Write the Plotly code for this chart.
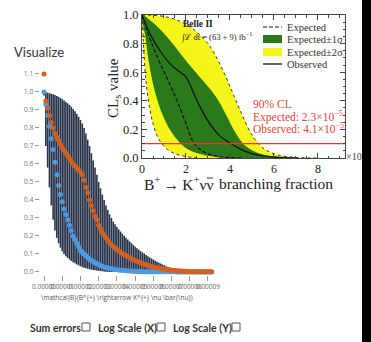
import plotly.graph_objects as go

W, H = 371, 342

# ---------------- left "Visualize" plot data (x in units of 1e-5) ----------------
bf_x = [0.0, 0.1, 0.2, 0.3, 0.4, 0.5, 0.6, 0.7, 0.8, 0.9,
        1.0, 1.1, 1.2, 1.3, 1.4, 1.5, 1.6, 1.7, 1.8, 1.9,
        2.0, 2.1, 2.2, 2.3, 2.4, 2.5, 2.6, 2.7, 2.8, 2.9,
        3.0, 3.1, 3.2, 3.3, 3.4, 3.5, 3.6, 3.7, 3.8, 3.9,
        4.0, 4.1, 4.2, 4.3, 4.4, 4.5, 4.6, 4.7, 4.8, 4.9,
        5.0, 5.1, 5.2, 5.3, 5.4, 5.5, 5.6, 5.7, 5.8, 5.9,
        6.0, 6.1, 6.2, 6.3, 6.4, 6.5, 6.6, 6.7, 6.8, 6.9,
        7.0, 7.1, 7.2, 7.3, 7.4, 7.5, 7.6, 7.7, 7.8, 7.9,
        8.0, 8.1, 8.2, 8.3, 8.4, 8.5, 8.6, 8.7, 8.8, 8.9,
        9.0, 9.1, 9.2]

cls_expected = [1.0, 0.93, 0.87, 0.81, 0.74, 0.68, 0.61, 0.54, 0.48, 0.43,
                0.39, 0.35, 0.32, 0.29, 0.26, 0.23, 0.20, 0.18, 0.16, 0.14,
                0.12, 0.11, 0.10, 0.09, 0.08, 0.07, 0.065, 0.058, 0.052, 0.046,
                0.041, 0.036, 0.032, 0.028, 0.025, 0.022, 0.020, 0.018, 0.016, 0.014,
                0.012, 0.011, 0.010, 0.009, 0.008, 0.007, 0.006, 0.005, 0.005, 0.004,
                0.004, 0.003, 0.003, 0.003, 0.002, 0.002, 0.002, 0.002, 0.001, 0.001,
                0.001, 0.001, 0.001, 0.001, 0.001, 0.001, 0.001, 0.001, 0.001, 0.001,
                0.001, 0.001, 0.001, 0.0, 0.0, 0.0, 0.0, 0.0, 0.0, 0.0,
                0.0, 0.0, 0.0, 0.0, 0.0, 0.0, 0.0, 0.0, 0.0, 0.0,
                0.0, 0.0, 0.0]

cls_observed = [1.10, 0.95, 0.91, 0.87, 0.83, 0.80, 0.77, 0.75, 0.73, 0.71,
                0.69, 0.675, 0.66, 0.645, 0.63, 0.615, 0.60, 0.59, 0.575, 0.565,
                0.555, 0.54, 0.51, 0.47, 0.44, 0.40, 0.37, 0.34, 0.31, 0.29,
                0.26, 0.24, 0.22, 0.205, 0.19, 0.175, 0.163, 0.152, 0.142, 0.133,
                0.125, 0.117, 0.11, 0.103, 0.097, 0.091, 0.085, 0.08, 0.074, 0.069,
                0.064, 0.059, 0.055, 0.051, 0.047, 0.043, 0.04, 0.036, 0.033, 0.03,
                0.028, 0.025, 0.023, 0.021, 0.019, 0.017, 0.015, 0.014, 0.012, 0.011,
                0.01, 0.009, 0.008, 0.007, 0.006, 0.005, 0.005, 0.004, 0.004, 0.003,
                0.003, 0.002, 0.002, 0.002, 0.002, 0.002, 0.001, 0.001, 0.001, 0.001,
                0.001, 0.001, 0.001]

band_upper = [1.0, 0.998, 0.996, 0.993, 0.99, 0.987, 0.983, 0.978, 0.973, 0.967,
              0.96, 0.953, 0.945, 0.937, 0.928, 0.918, 0.906, 0.893, 0.878, 0.862,
              0.845, 0.825, 0.80, 0.77, 0.735, 0.70, 0.66, 0.62, 0.58, 0.54,
              0.50, 0.465, 0.43, 0.40, 0.37, 0.345, 0.32, 0.30, 0.28, 0.265,
              0.25, 0.237, 0.225, 0.213, 0.202, 0.19, 0.18, 0.17, 0.16, 0.15,
              0.14, 0.132, 0.124, 0.116, 0.109, 0.102, 0.095, 0.088, 0.081, 0.075,
              0.069, 0.063, 0.057, 0.052, 0.047, 0.042, 0.037, 0.032, 0.028, 0.024,
              0.02, 0.016, 0.013, 0.01, 0.008, 0.006, 0.004, 0.003, 0.002, 0.001,
              0.001, 0.0, 0.0, 0.0, 0.0, 0.0, 0.0, 0.0, 0.0, 0.0,
              0.0, 0.0, 0.0]

band_lower = [0.98, 0.70, 0.58, 0.47, 0.37, 0.29, 0.23, 0.19, 0.16, 0.135,
              0.115, 0.10, 0.088, 0.078, 0.069, 0.061, 0.054, 0.048, 0.042, 0.037,
              0.032, 0.028, 0.024, 0.021, 0.018, 0.015, 0.013, 0.011, 0.009, 0.008,
              0.006, 0.005, 0.004, 0.003, 0.002, 0.001, 0.0, 0.0, 0.0, 0.0,
              0.0, 0.0, 0.0, 0.0, 0.0, 0.0, 0.0, 0.0, 0.0, 0.0,
              0.0, 0.0, 0.0, 0.0, 0.0, 0.0, 0.0, 0.0, 0.0, 0.0,
              0.0, 0.0, 0.0, 0.0, 0.0, 0.0, 0.0, 0.0, 0.0, 0.0,
              0.0, 0.0, 0.0, 0.0, 0.0, 0.0, 0.0, 0.0, 0.0, 0.0,
              0.0, 0.0, 0.0, 0.0, 0.0, 0.0, 0.0, 0.0, 0.0, 0.0,
              0.0, 0.0, 0.0]

assert len(bf_x) == len(cls_expected) == len(cls_observed) == len(band_upper) == len(band_lower)

left_xtick_vals = [0, 1, 2, 3, 4, 5, 6, 7, 8, 9]
left_xtick_text = ["0.00000", "0.00001", "0.00002", "0.00003", "0.00004",
                   "0.00005", "0.00006", "0.00007", "0.00008", "0.00009"]
left_ytick_vals = [0.0, 0.1, 0.2, 0.3, 0.4, 0.5, 0.6, 0.7, 0.8, 0.9, 1.0, 1.1]

# ---------------- Belle II inset data (x in units of 1e-5) ----------------
exp_x = [0.0, 0.25, 0.5, 0.8, 1.1, 1.4, 1.7, 2.0, 2.3, 2.6, 3.0, 3.5, 4.0, 4.5]
exp_y = [1.0, 0.88, 0.78, 0.67, 0.57, 0.47, 0.36, 0.24, 0.12, 0.065, 0.03, 0.01, 0.003, 0.0]

obs_x = [0.0, 0.36, 0.82, 1.27, 1.6, 1.95, 2.1, 2.3, 2.6, 3.0, 3.5, 4.0, 4.5, 5.0, 5.5, 6.0, 6.5, 7.0]
obs_y = [1.0, 0.87, 0.75, 0.66, 0.615, 0.575, 0.54, 0.47, 0.37, 0.26, 0.16, 0.105, 0.06, 0.03, 0.015, 0.007, 0.002, 0.0]

s1_up_x = [0.0, 0.35, 0.95, 1.5, 2.0, 2.5, 3.0, 3.4, 3.8, 4.2, 4.6, 5.0, 5.5, 6.0, 6.5, 7.0]
s1_up_y = [1.0, 0.965, 0.88, 0.78, 0.68, 0.59, 0.5, 0.42, 0.31, 0.19, 0.1, 0.055, 0.025, 0.01, 0.004, 0.0]
s1_lo_x = [0.0, 0.15, 0.3, 0.5, 0.75, 1.0, 1.3, 1.7, 2.1, 2.6, 3.2, 3.8]
s1_lo_y = [1.0, 0.85, 0.68, 0.52, 0.38, 0.28, 0.19, 0.11, 0.06, 0.03, 0.01, 0.0]

s2_up_x = [0.0, 0.5, 1.0, 1.5, 2.0, 2.5, 3.0, 3.5, 4.0, 4.5, 5.0, 5.5, 6.0, 6.5, 7.0, 7.5, 8.0]
s2_up_y = [1.0, 0.998, 0.99, 0.97, 0.935, 0.88, 0.8, 0.67, 0.5, 0.32, 0.16, 0.07, 0.03, 0.012, 0.004, 0.001, 0.0]
s2_lo_x = [0.0, 0.05, 0.12, 0.22, 0.36, 0.5, 0.7, 0.9, 1.15, 1.5, 2.0, 2.6]
s2_lo_y = [1.0, 0.85, 0.65, 0.48, 0.34, 0.24, 0.15, 0.1, 0.06, 0.03, 0.01, 0.0]

cl_level = 0.1
inset_x_range = [0.0, 9.23]

fig = go.Figure()

# error bars (+-2 sigma) around expected, blue markers
fig.add_trace(go.Scatter(
    x=bf_x, y=cls_expected, mode="markers", xaxis="x", yaxis="y",
    marker=dict(size=5, color="#4a9be3"),
    error_y=dict(type="data", symmetric=False,
                 array=[u - e for u, e in zip(band_upper, cls_expected)],
                 arrayminus=[e - l for e, l in zip(cls_expected, band_lower)],
                 color="#26314a", thickness=1.6, width=0),
    showlegend=False))
fig.add_trace(go.Scatter(
    x=bf_x, y=cls_observed, mode="markers", xaxis="x", yaxis="y",
    marker=dict(size=5, color="#d2601f"), showlegend=False))

# inset: bands
yellow = "#f6f51a"
green = "#2a7a1c"
fig.add_trace(go.Scatter(x=s2_up_x + s2_lo_x[::-1], y=s2_up_y + s2_lo_y[::-1],
                         xaxis="x2", yaxis="y2", mode="lines", fill="toself",
                         fillcolor=yellow, line=dict(width=0, shape="spline"),
                         showlegend=False))
fig.add_trace(go.Scatter(x=s1_up_x + s1_lo_x[::-1], y=s1_up_y + s1_lo_y[::-1],
                         xaxis="x2", yaxis="y2", mode="lines", fill="toself",
                         fillcolor=green, line=dict(width=0, shape="spline"),
                         showlegend=False))
for xs, ys in [(s2_up_x, s2_up_y), (s2_lo_x, s2_lo_y)]:
    fig.add_trace(go.Scatter(x=xs, y=ys, xaxis="x2", yaxis="y2", mode="lines",
                             line=dict(color="#222", width=0.9, dash="dot", shape="spline"),
                             showlegend=False))
fig.add_trace(go.Scatter(x=exp_x, y=exp_y, xaxis="x2", yaxis="y2", mode="lines",
                         line=dict(color="#111", width=1.2, dash="4px,2px", shape="spline"),
                         showlegend=False))
fig.add_trace(go.Scatter(x=obs_x, y=obs_y, xaxis="x2", yaxis="y2", mode="lines",
                         line=dict(color="#111", width=1.3, shape="spline"),
                         showlegend=False))
fig.add_trace(go.Scatter(x=inset_x_range, y=[cl_level, cl_level], xaxis="x2", yaxis="y2",
                         mode="lines", line=dict(color="#e8382d", width=1.3),
                         showlegend=False))

def px_x(p):
    return p / W

def px_y(p):
    return 1 - p / H

serif = "Liberation Serif, DejaVu Serif, serif"
sans = "Open Sans, sans-serif"
ui = "Lato, Open Sans, sans-serif"

fig.update_layout(
    width=W, height=H, margin=dict(l=0, r=0, t=0, b=0, pad=0),
    paper_bgcolor="white", plot_bgcolor="rgba(0,0,0,0)", showlegend=False,
    xaxis=dict(domain=[px_x(40), px_x(222)], range=[-0.22, 9.77], anchor="y",
               tickmode="array", tickvals=left_xtick_vals, ticktext=left_xtick_text,
               tickangle=0,
               ticks="outside", ticklen=5, tickcolor="#999", tickwidth=1,
               tickfont=dict(family=sans, size=6.5, color="#666"),
               showgrid=False, zeroline=False, showline=False, automargin=False),
    yaxis=dict(domain=[px_y(275), px_y(68)], range=[-0.0167, 1.1333], anchor="x",
               tickmode="array", tickvals=left_ytick_vals, tickformat=".1f",
               ticks="outside", ticklen=4, tickcolor="#999", tickwidth=1,
               tickfont=dict(family=sans, size=7, color="#777"),
               showgrid=False, zeroline=False, showline=False, automargin=False),
    xaxis2=dict(domain=[px_x(142), px_x(345)], range=inset_x_range, anchor="y2",
                dtick=2, tick0=0, ticks="inside", ticklen=5, tickcolor="#444",
                minor=dict(dtick=0.5, ticks="inside", ticklen=2.5, tickcolor="#444"),
                showline=True, mirror="allticks", linecolor="#444", linewidth=1,
                tickfont=dict(family=serif, size=12, color="#222"),
                showgrid=False, zeroline=False, automargin=False),
    yaxis2=dict(domain=[px_y(158), px_y(15)], range=[0, 1], anchor="x2",
                dtick=0.2, tick0=0, tickformat=".1f", ticks="inside", ticklen=5, tickcolor="#444",
                minor=dict(dtick=0.05, ticks="inside", ticklen=2.5, tickcolor="#444"),
                showline=True, mirror="allticks", linecolor="#444", linewidth=1,
                tickfont=dict(family=serif, size=12.5, color="#222"),
                showgrid=False, zeroline=False, automargin=False),
)

annotations = []

def ann(text, x, y, size, color="#333", family=sans, xanchor="left", yanchor="middle", angle=0):
    annotations.append(dict(text=text, x=px_x(x), y=px_y(y), xref="paper", yref="paper",
                            xanchor=xanchor, yanchor=yanchor, showarrow=False, textangle=angle,
                            borderpad=0, borderwidth=0,
                            font=dict(family=family, size=size, color=color)))

ann("Visualize", 14, 52, 13, "#333", family=ui)
ann("\\mathcal{B}(B^{+} \\rightarrow K^{+} \\nu \\bar{\\nu})", 117, 297, 6.5, "#555", xanchor="center")
ann("<b>Sum errors</b>", 30, 328, 10.5, "#333", family=ui)
ann("<b>Log Scale (X)</b>", 98, 328, 10.5, "#333", family=ui)
ann("<b>Log Scale (Y)</b>", 173, 328, 10.5, "#333", family=ui)

# inset texts
ann("CL<sub>s</sub> value", 114, 88, 15, "#222", family=serif, xanchor="center", angle=-90)
ann("B<sup>+</sup>\u2009→\u2009K<sup>+</sup>νν", 214, 183, 15.5, "#222", family=serif, xanchor="right")
ann("branching fraction", 219, 183, 15.5, "#222", family=serif, xanchor="left")
ann("×10", 346, 156, 10, "#444", family=serif)
ann("<b>Belle II</b>", 183, 24, 9.5, "#222", family=serif)
ann("∫ℒ dt = (63 + 9) fb<sup>−1</sup>", 181, 37, 8.5, "#222", family=serif)
ann("Expected", 287, 27, 10.5, "#333", family=serif)
ann("Expected±1σ", 287, 39, 10.5, "#333", family=serif)
ann("Expected±2σ", 287, 52, 10.5, "#333", family=serif)
ann("Observed", 287, 64, 10.5, "#333", family=serif)
red = "#e0443a"
ann("90% CL", 253, 104, 11.5, red, family=serif)
ann("Expected: 2.3×10<sup>−5</sup>", 253, 116, 11.5, red, family=serif)
ann("Observed: 4.1×10<sup>−5</sup>", 253, 128, 11.5, red, family=serif)

fig.update_layout(annotations=annotations)

shapes = []
def rect(x0, y0, x1, y1, fill, line="rgba(0,0,0,0)", lw=0, layer="above"):
    shapes.append(dict(type="rect", xref="paper", yref="paper",
                       x0=px_x(x0), x1=px_x(x1), y0=px_y(y1), y1=px_y(y0),
                       fillcolor=fill, line=dict(color=line, width=lw), layer=layer))

def hline(x0, x1, y, dash="solid", lw=1.3, color="#111"):
    shapes.append(dict(type="line", xref="paper", yref="paper",
                       x0=px_x(x0), x1=px_x(x1), y0=px_y(y), y1=px_y(y),
                       line=dict(color=color, width=lw, dash=dash)))

hline(263, 282, 27, dash="4px,2px", lw=1.2)
rect(263, 35, 282, 43, green)
rect(263, 48, 282, 56, yellow)
hline(263, 282, 64, lw=1.3)
# overbar of the anti-neutrino
hline(207, 213, 178, lw=0.9, color="#222")

# checkboxes
for cx in [82, 157, 232]:
    rect(cx, 323, cx + 8, 331, "white", line="#555", lw=1)

# black bar at right edge
rect(362, 0, 371, 342, "black")

fig.update_layout(shapes=shapes)

fig.write_html("out.html", config={"displayModeBar": False},
               post_script="document.body.style.margin='0px';")
